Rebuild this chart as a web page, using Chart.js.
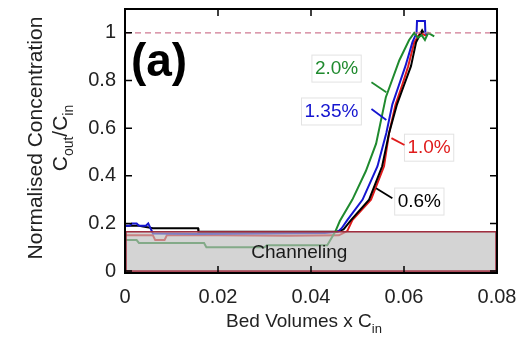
<!DOCTYPE html>
<html>
<head>
<meta charset="utf-8">
<script src="https://cdn.jsdelivr.net/npm/chart.js@4.4.0/dist/chart.umd.min.js"></script>
<style>
  html, body { margin: 0; padding: 0; background: #fff; }
</style>
</head>
<body>
<canvas id="chart" width="532" height="339"></canvas>
<script>
"use strict"

// Axis ticks
const xTicks = [0, 0.02, 0.04, 0.06, 0.08];
const xTickLabels = ["0", "0.02", "0.04", "0.06", "0.08"];
const yTicks = [0, 0.2, 0.4, 0.6, 0.8, 1];
const yTickLabels = ["0", "0.2", "0.4", "0.6", "0.8", "1"];

// Breakthrough curves (bed volumes x Cin, Cout/Cin)
const bv20 = [0, 0.0025, 0.003, 0.017, 0.0175, 0.030, 0.0305, 0.0435, 0.0452, 0.0462, 0.0489, 0.0518, 0.054, 0.0561, 0.059, 0.0611, 0.0622, 0.063, 0.0638, 0.0645, 0.0652, 0.0665];
const c20 = [0.13, 0.13, 0.118, 0.118, 0.10, 0.10, 0.108, 0.108, 0.165, 0.21, 0.30, 0.42, 0.535, 0.73, 0.885, 0.97, 1.0, 0.98, 0.99, 0.97, 1.0, 0.985];

const bv135 = [0, 0.001, 0.0015, 0.0025, 0.003, 0.0045, 0.005, 0.006, 0.015, 0.030, 0.043, 0.0458, 0.0466, 0.0478, 0.0511, 0.0543, 0.0562, 0.0575, 0.0589, 0.0603, 0.0618, 0.0627, 0.0628, 0.0645, 0.0646, 0.065];
const c135 = [0.19, 0.19, 0.2, 0.2, 0.19, 0.19, 0.2, 0.158, 0.156, 0.158, 0.16, 0.165, 0.18, 0.214, 0.30, 0.44, 0.58, 0.70, 0.78, 0.86, 0.96, 1.0, 1.05, 1.05, 1.0, 0.99];

const bv06 = [0, 0.003, 0.006, 0.010, 0.0157, 0.0158, 0.030, 0.0455, 0.047, 0.0486, 0.0525, 0.0553, 0.0568, 0.0585, 0.060, 0.0615, 0.0626, 0.0639, 0.0642];
const c06 = [0.19, 0.19, 0.18, 0.18, 0.18, 0.165, 0.165, 0.165, 0.175, 0.214, 0.30, 0.44, 0.58, 0.70, 0.78, 0.86, 0.96, 1.01, 1.0];

const bv10 = [0, 0.006, 0.0065, 0.0085, 0.009, 0.020, 0.035, 0.046, 0.0478, 0.0489, 0.0529, 0.0557, 0.0568, 0.0582, 0.0596, 0.0609, 0.0622, 0.0635, 0.0645, 0.065];
const c10 = [0.15, 0.15, 0.13, 0.13, 0.15, 0.15, 0.148, 0.15, 0.168, 0.214, 0.30, 0.44, 0.58, 0.70, 0.78, 0.86, 0.96, 1.0, 0.99, 0.99];

const seriesNames = ["2.0%", "1.35%", "0.6%", "1.0%"];
const seriesColors = ["#1f8a2e", "#1515d0", "#000000", "#e01b1b"];

// Channeling band and reference line
const channelTop = 0.165;
const refLine = 1;

const FONT = '"Liberation Sans", Arial, sans-serif';

function toPoints(xs, ys) {
  let pts = [];
  for (let i = 0; i < xs.length; i++) {
    pts.push({x: xs[i], y: ys[i]});
  }
  return pts;
}

const allSeries = [toPoints(bv20, c20), toPoints(bv135, c135), toPoints(bv06, c06), toPoints(bv10, c10)];

// label boxes and leader lines, in data units: [labelX, labelY, lineX1, lineY1, lineX2, lineY2]
const labelSpots = [
  [0.0455, 0.852, 0.0530, 0.793, 0.0562, 0.751],
  [0.0444, 0.672, 0.0530, 0.680, 0.0562, 0.634],
  [0.0633, 0.294, 0.0540, 0.348, 0.0575, 0.306],
  [0.0654, 0.520, 0.0573, 0.558, 0.0601, 0.529]
];

function drawRich(ctx, parts, size) {
  let w = 0;
  for (let p of parts) {
    ctx.font = (p[1] ? Math.round(size * 0.68) : size) + "px " + FONT;
    w += ctx.measureText(p[0]).width;
  }
  let xx = -w / 2;
  for (let p of parts) {
    ctx.font = (p[1] ? Math.round(size * 0.68) : size) + "px " + FONT;
    ctx.fillText(p[0], xx, p[1] ? size * 0.38 : 0);
    xx += ctx.measureText(p[0]).width;
  }
}

const decorations = {
  id: "decorations",
  afterDatasetsDraw(chart) {
    const ctx = chart.ctx;
    const a = chart.chartArea;
    const x = chart.scales.x;
    const y = chart.scales.y;
    ctx.save();

    // channeling box over the lines
    const by = y.getPixelForValue(channelTop);
    const b0 = y.getPixelForValue(0);
    ctx.fillStyle = "rgba(188,188,188,0.64)";
    ctx.fillRect(a.left, by, a.right - a.left, b0 - by);
    ctx.strokeStyle = "#9e2a3c";
    ctx.lineWidth = 1.5;
    ctx.strokeRect(a.left + 1, by, a.right - a.left - 2, b0 - by);
    ctx.fillStyle = "#1a1a1a";
    ctx.font = "19px " + FONT;
    ctx.textAlign = "center";
    ctx.textBaseline = "middle";
    ctx.fillText("Channeling", x.getPixelForValue(0.0375), y.getPixelForValue(0.078));

    // dashed line at 1
    ctx.strokeStyle = "#d07a92";
    ctx.lineWidth = 1.3;
    ctx.setLineDash([6, 4]);
    ctx.beginPath();
    ctx.moveTo(a.left, y.getPixelForValue(refLine));
    ctx.lineTo(a.right, y.getPixelForValue(refLine));
    ctx.stroke();
    ctx.setLineDash([]);

    // frame
    ctx.strokeStyle = "#000";
    ctx.lineWidth = 2;
    ctx.strokeRect(a.left, a.top, a.right - a.left, a.bottom - a.top);

    // inward ticks on all sides
    ctx.lineWidth = 1.5;
    ctx.beginPath();
    for (let v of xTicks) {
      const px = x.getPixelForValue(v);
      ctx.moveTo(px, a.bottom); ctx.lineTo(px, a.bottom - 7);
      ctx.moveTo(px, a.top); ctx.lineTo(px, a.top + 7);
    }
    for (let v of yTicks) {
      const py = y.getPixelForValue(v);
      ctx.moveTo(a.left, py); ctx.lineTo(a.left + 7, py);
      ctx.moveTo(a.right, py); ctx.lineTo(a.right - 7, py);
    }
    ctx.stroke();

    // series labels with leader lines
    ctx.font = "19px " + FONT;
    for (let i = 0; i < labelSpots.length; i++) {
      const s = labelSpots[i];
      const lx = x.getPixelForValue(s[0]);
      const ly = y.getPixelForValue(s[1]);
      const tw = ctx.measureText(seriesNames[i]).width;
      ctx.strokeStyle = "#e2e2e2";
      ctx.lineWidth = 1;
      ctx.strokeRect(lx - tw / 2 - 3, ly - 13, tw + 6, 27);
      ctx.fillStyle = seriesColors[i];
      ctx.fillText(seriesNames[i], lx, ly + 1);
      ctx.strokeStyle = seriesColors[i];
      ctx.lineWidth = 1.8;
      ctx.beginPath();
      ctx.moveTo(x.getPixelForValue(s[2]), y.getPixelForValue(s[3]));
      ctx.lineTo(x.getPixelForValue(s[4]), y.getPixelForValue(s[5]));
      ctx.stroke();
    }

    // panel letter
    ctx.fillStyle = "#000";
    ctx.font = "bold 46px " + FONT;
    ctx.fillText("(a)", 159, 63);

    // axis titles
    ctx.fillStyle = "#222";
    ctx.textAlign = "left";
    ctx.save();
    ctx.translate(304, 322);
    drawRich(ctx, [["Bed Volumes x C", false], ["in", true]], 19);
    ctx.restore();

    ctx.save();
    ctx.translate(36, 138);
    ctx.rotate(-Math.PI / 2);
    drawRich(ctx, [["Normalised Concentration", false]], 21);
    ctx.restore();

    ctx.save();
    ctx.translate(61, 138);
    ctx.rotate(-Math.PI / 2);
    drawRich(ctx, [["C", false], ["out", true], ["/C", false], ["in", true]], 21);
    ctx.restore();

    ctx.restore();
  }
};

const data = {
  datasets: allSeries.map((pts, i) => ({
    label: seriesNames[i],
    data: pts,
    borderColor: seriesColors[i],
    borderWidth: 2,
    pointRadius: 0,
    fill: false,
    tension: 0
  }))
};

const config = {
  type: "line",
  data: data,
  options: {
    responsive: false,
    animation: false,
    layout: { padding: { top: 9, right: 35, left: 0, bottom: 0 } },
    plugins: { legend: { display: false }, tooltip: { enabled: false } },
    scales: {
      x: {
        type: "linear",
        min: 0,
        max: 0.08,
        afterBuildTicks: s => { s.ticks = xTicks.map(v => ({ value: v })); },
        afterFit: s => { s.height = 66; s.paddingLeft = 0; s.paddingRight = 0; },
        grid: { display: false, drawTicks: false },
        border: { display: false },
        ticks: {
          callback: (v, i) => xTickLabels[i],
          font: { family: FONT, size: 20 },
          color: "#222",
          padding: 12,
          maxRotation: 0,
          autoSkip: false
        }
      },
      y: {
        type: "linear",
        min: -0.008,
        max: 1.1,
        afterBuildTicks: s => { s.ticks = yTicks.map(v => ({ value: v })); },
        afterFit: s => { s.width = 125; s.paddingTop = 0; s.paddingBottom = 0; },
        grid: { display: false, drawTicks: false },
        border: { display: false },
        ticks: {
          callback: (v, i) => yTickLabels[i],
          font: { family: FONT, size: 20 },
          color: "#222",
          padding: 9,
          autoSkip: false
        }
      }
    }
  },
  plugins: [decorations]
};

const myChart = new Chart(document.getElementById("chart"), config);
</script>
</body>
</html>
